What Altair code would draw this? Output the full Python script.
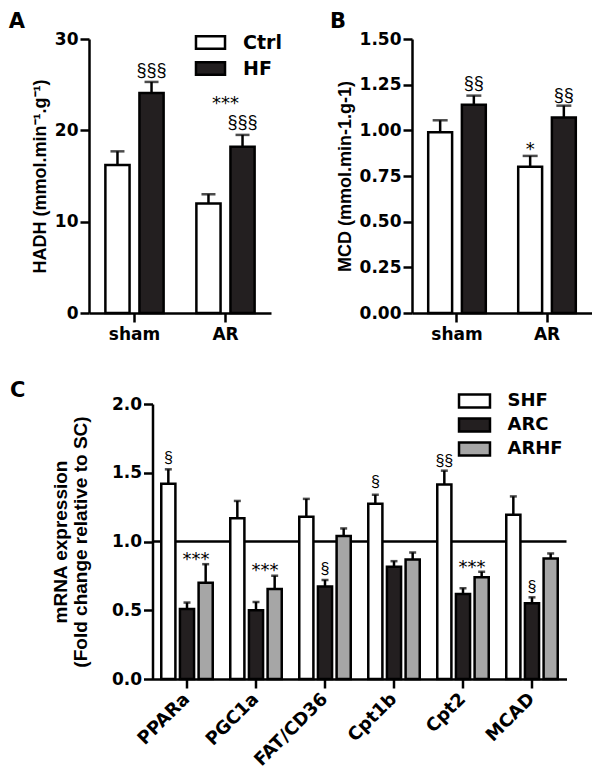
import altair as alt
import pandas as pd

# ---------------- data ----------------
conditions = ["sham", "AR"]
groups_ab = ["Ctrl", "HF"]

hadh_ctrl = [16.2, 12.0]
hadh_ctrl_sem = [1.5, 1.0]
hadh_hf = [24.1, 18.2]
hadh_hf_sem = [1.2, 1.3]

mcd_ctrl = [0.99, 0.80]
mcd_ctrl_sem = [0.065, 0.06]
mcd_hf = [1.14, 1.07]
mcd_hf_sem = [0.05, 0.065]

genes = ["PPARa", "PGC1a", "FAT/CD36", "Cpt1b", "Cpt2", "MCAD"]
groups_c = ["SHF", "ARC", "ARHF"]
shf = [1.42, 1.17, 1.18, 1.275, 1.415, 1.195]
shf_sem = [0.105, 0.125, 0.13, 0.065, 0.10, 0.133]
arc = [0.51, 0.50, 0.672, 0.817, 0.618, 0.551]
arc_sem = [0.046, 0.06, 0.048, 0.04, 0.042, 0.043]
arhf = [0.70, 0.655, 1.04, 0.87, 0.74, 0.877]
arhf_sem = [0.135, 0.096, 0.055, 0.05, 0.04, 0.036]

# annotations (category, group, text, y)
a_sect = [("sham", "HF", "§§§", 26.5), ("AR", "HF", "§§§", 20.8)]
a_star = [("AR", "***", 23.4)]
b_sect = [("sham", "HF", "§§", 1.255), ("AR", "HF", "§§", 1.187)]
b_star = [("AR", "Ctrl", "*", 0.915)]
c_sect = [("PPARa", "SHF", "§", 1.61), ("FAT/CD36", "ARC", "§", 0.797),
          ("Cpt1b", "SHF", "§", 1.432), ("Cpt2", "SHF", "§§", 1.585),
          ("MCAD", "ARC", "§", 0.672)]
c_star = [("PPARa", "***", 0.90), ("PGC1a", "***", 0.817), ("Cpt2", "***", 0.84)]

FH = "DejaVu Sans"
FV = "Liberation Sans"
BLACK = "#231f20"
GRAY = "#a6a6a6"
RECT = "M-1.8,-0.77H1.8V0.77H-1.8Z"


def frame(cats, groups, series):
    rows = []
    for i, c in enumerate(cats):
        for g, (vals, sems) in zip(groups, series):
            rows.append({"cond": c, "group": g, "mean": vals[i], "upper": vals[i] + sems[i]})
    return pd.DataFrame(rows)


df_a = frame(conditions, groups_ab, [(hadh_ctrl, hadh_ctrl_sem), (hadh_hf, hadh_hf_sem)])
df_b = frame(conditions, groups_ab, [(mcd_ctrl, mcd_ctrl_sem), (mcd_hf, mcd_hf_sem)])
df_c = frame(genes, groups_c, [(shf, shf_sem), (arc, arc_sem), (arhf, arhf_sem)])


def panel(df, cats, groups, colors, sect, star, star_has_group, letter, ytitle,
          ydom, yvals, yfmt, width, height, xpi, xpo, opi, cap, sect_fs, star_fs,
          star_dx, legend, xaxis, title_dx, title_dy, title_off, yaxis_extra,
          ref_line=False):
    xs = alt.Scale(paddingInner=xpi, paddingOuter=xpo)
    os_ = alt.Scale(paddingInner=opi, paddingOuter=0)
    ys = alt.Scale(domain=ydom, nice=False, zero=True)
    X = alt.X("cond:N", sort=cats, scale=xs, axis=xaxis)
    XO = alt.XOffset("group:N", sort=groups, scale=os_)

    yaxis = alt.Axis(values=yvals, format=yfmt, title=ytitle, **yaxis_extra)

    def Y(field):
        return alt.Y(field, scale=ys, axis=yaxis)

    base = alt.Chart(df)
    bars = base.mark_bar(stroke="black", strokeWidth=2.5).encode(
        x=X, xOffset=XO, y=Y("mean:Q"),
        fill=alt.Fill("group:N", sort=groups,
                      scale=alt.Scale(domain=groups, range=colors), legend=legend),
    )
    whisk = base.mark_rule(color="black", strokeWidth=2.5).encode(
        x=X, xOffset=XO, y=Y("mean:Q"), y2="upper:Q")
    caps = base.mark_tick(color="black", thickness=2.5, size=cap, orient="horizontal").encode(
        x=X, xOffset=XO, y=Y("upper:Q"))

    sdf = pd.DataFrame(sect, columns=["cond", "group", "txt", "y"])
    stext = alt.Chart(sdf).mark_text(font=FV, fontSize=sect_fs, color="black",
                                     baseline="middle").encode(
        x=X, xOffset=XO, y=Y("y:Q"), text="txt:N")

    if star_has_group:
        tdf = pd.DataFrame(star, columns=["cond", "group", "txt", "y"])
        ttext = alt.Chart(tdf).mark_text(font=FH, fontSize=star_fs, color="black",
                                         baseline="middle", dy=star_fs * 0.25).encode(
            x=X, xOffset=XO, y=Y("y:Q"), text="txt:N")
    else:
        tdf = pd.DataFrame(star, columns=["cond", "txt", "y"])
        ttext = alt.Chart(tdf).mark_text(font=FH, fontSize=star_fs, color="black",
                                         baseline="middle", dx=star_dx,
                                         dy=star_fs * 0.25).encode(
            x=X, y=Y("y:Q"), text="txt:N")

    layers = []
    if ref_line:
        rdf = pd.DataFrame({"ref": [1.0]})
        layers.append(alt.Chart(rdf).mark_rule(color="black", strokeWidth=2.5).encode(
            y=Y("ref:Q")))
    layers += [bars, whisk, caps, stext, ttext]
    title = alt.TitleParams(text=letter, anchor="start", frame="bounds", font=FH,
                            fontSize=21, fontWeight="bold", color="black",
                            dx=title_dx, dy=title_dy, offset=title_off)
    return alt.layer(*layers).properties(width=width, height=height, title=title)


xaxis_ab = alt.Axis(title=None, labelAngle=0, labelFont=FH, labelFontSize=17,
                    labelFontWeight="bold", labelPadding=4)
yextra_ab = dict(labelFont=FH, labelFontSize=17, labelFontWeight="bold",
                 labelPadding=2, titleFont=FV, titleFontSize=18, titleFontWeight="bold",
                 titlePadding=5)

leg_a = alt.Legend(title=None, orient="none", legendX=112, legendY=-6, symbolType=RECT,
                   symbolSize=260, symbolStrokeColor="black", symbolStrokeWidth=2.5,
                   labelFont=FH, labelFontSize=19, labelFontWeight="bold",
                   labelColor="black", labelOffset=23, rowPadding=3, padding=0)

pa = panel(df_a, conditions, groups_ab, ["white", BLACK], a_sect, a_star, False, "A",
           "HADH (mmol.min⁻¹.g⁻¹)", [0, 30], [0, 10, 20, 30], "d", 182, 274,
           0.36, 0.18, 0.29, 14, 18, 18, 0, leg_a, xaxis_ab, -22.5, 4, 2, yextra_ab)

pb = panel(df_b, conditions, groups_ab, ["white", BLACK], b_sect, b_star, True, "B",
           "MCD (mmol.min-1.g-1)", [0, 1.5], [0, 0.25, 0.5, 0.75, 1.0, 1.25, 1.5], ".2f",
           180, 274, 0.36, 0.18, 0.29, 15, 18, 18, 0, None, xaxis_ab, -6, 4, 2, yextra_ab)

top = alt.hconcat(pa, pb, spacing=48).resolve_scale(
    fill="independent", x="independent", y="independent", xOffset="independent"
).resolve_legend(fill="independent")

xaxis_c = alt.Axis(title=None, labelAngle=315, labelAlign="right", labelBaseline="middle",
                   labelFont=FH, labelFontSize=18, labelFontWeight="bold", labelPadding=8)
yextra_c = dict(labelFont=FH, labelFontSize=17, labelFontWeight="bold",
                labelPadding=2, titleFont=FV, titleFontSize=19, titleFontWeight="bold",
                titlePadding=21, titleLineHeight=20)
leg_c = alt.Legend(title=None, orient="none", legendX=312, legendY=-13, symbolType=RECT,
                   symbolSize=296, symbolStrokeColor="black", symbolStrokeWidth=2.5,
                   labelFont=FH, labelFontSize=18, labelFontWeight="bold",
                   labelColor="black", labelOffset=23, rowPadding=0, padding=0)

pc = panel(df_c, genes, groups_c, ["white", BLACK, GRAY], c_sect, c_star, False, "C",
           ["mRNA expression", "(Fold change relative to SC)"], [0, 2],
           [0, 0.5, 1.0, 1.5, 2.0], ".1f", 414, 275, 0.254, 0.127, 0.243, 7, 16, 18, 9,
           leg_c, xaxis_c, -41.5, 10, 0, yextra_c, ref_line=True)

# invisible spacer that fixes the left edge of the lower row relative to panel A
spacer = alt.Chart(pd.DataFrame({"v": [0]})).mark_point(opacity=0, size=0).encode(
    x=alt.value(0), y=alt.value(0)).properties(width=1, height=1)

bottom = alt.hconcat(spacer, pc, spacing=-80.5).resolve_scale(
    fill="independent", x="independent", y="independent", xOffset="independent"
).resolve_legend(fill="independent")

chart = alt.vconcat(top, bottom, spacing=38).properties(
    padding={"top": 3, "left": 0, "right": 0, "bottom": 0}
).resolve_scale(
    fill="independent", x="independent", y="independent", xOffset="independent"
).resolve_legend(fill="independent").configure_view(stroke=None).configure_axis(
    domainColor="black", domainWidth=2.5, tickColor="black", tickWidth=2.5,
    tickSize=9, grid=False, labelColor="black", titleColor="black"
)

chart.save("out.html", embed_options={"renderer": "svg", "actions": False})
